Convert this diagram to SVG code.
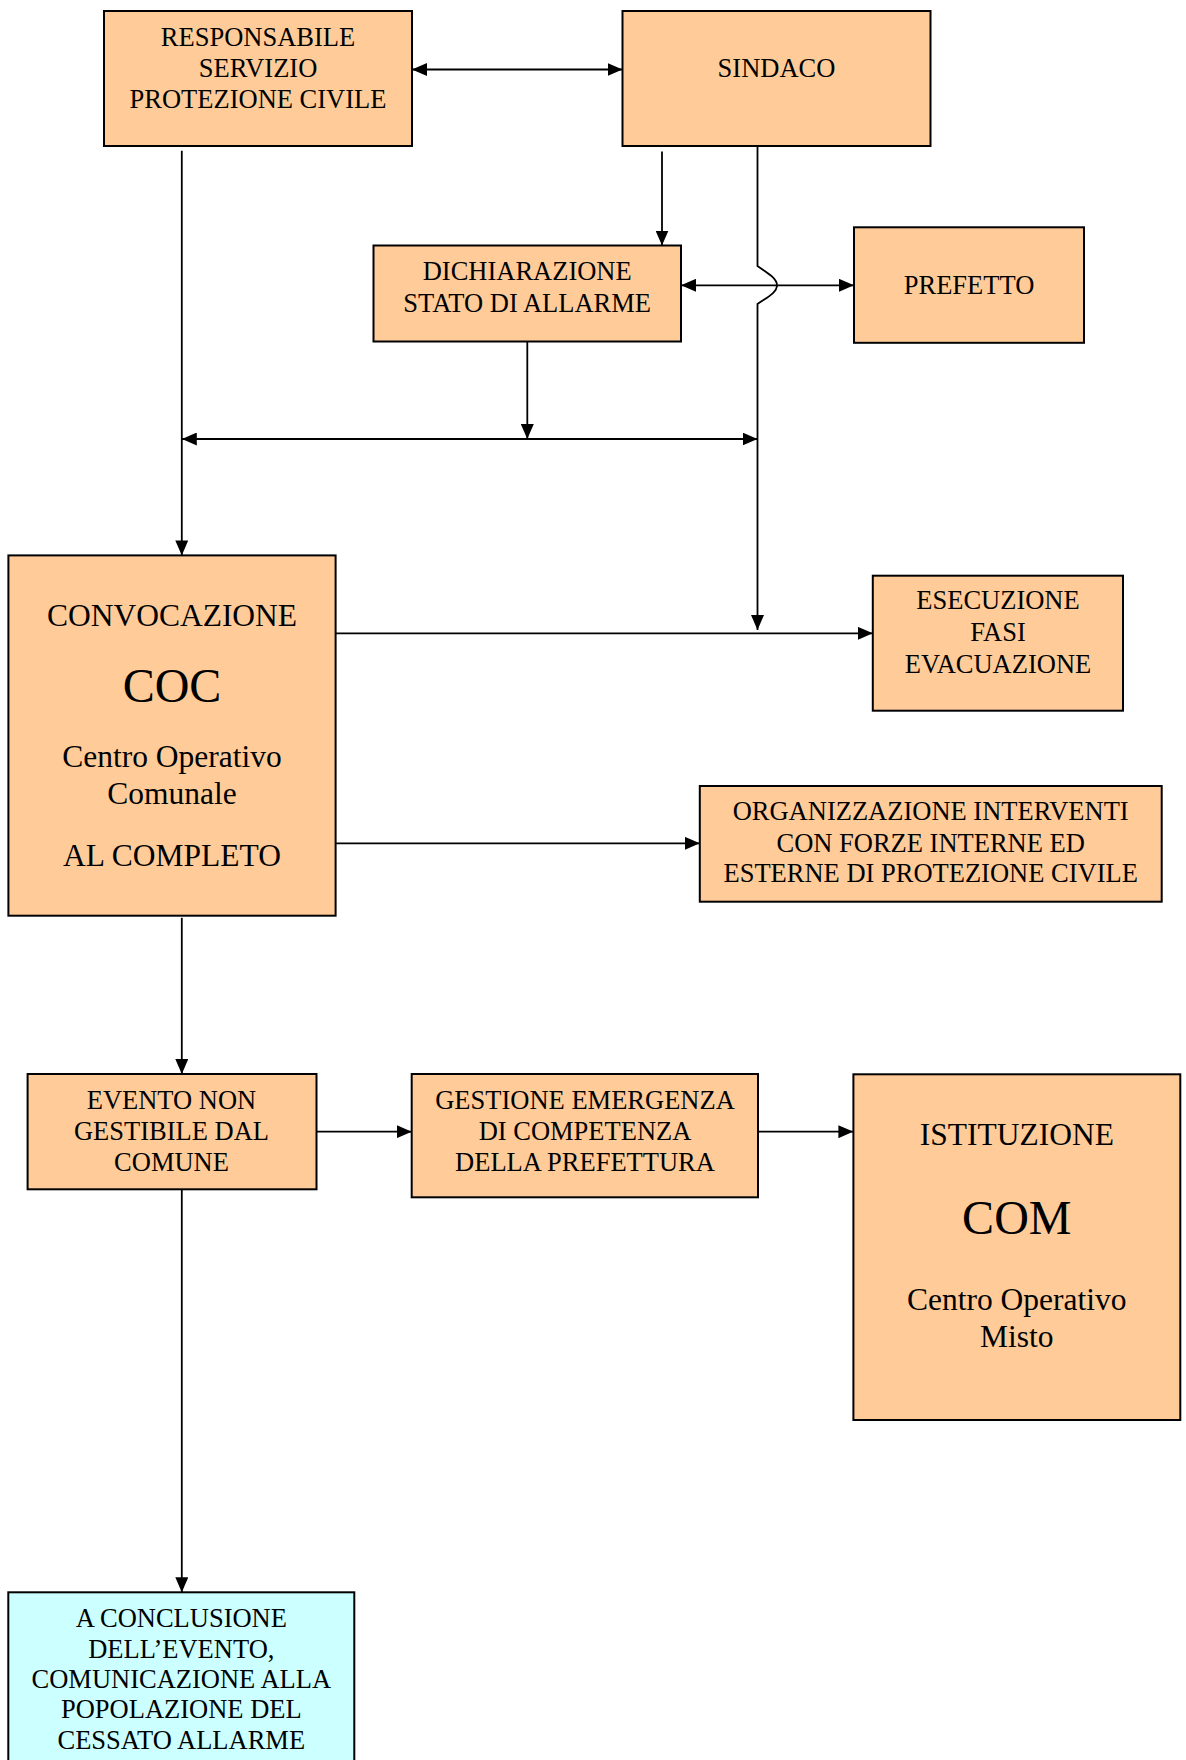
<svg xmlns="http://www.w3.org/2000/svg" width="1186" height="1760" viewBox="0 0 1186 1760">
<style>
  .box { fill: #FFCC99; stroke: #000; stroke-width: 2; }
  .box2 { fill: #CCFFFF; stroke: #000; stroke-width: 2; }
  .t { font-family: "Liberation Serif", "Times New Roman", serif; font-size: 26.5px; fill: #000; text-anchor: middle; }
  .m { font-size: 31.5px; }
  .b { font-size: 48px; }
  .c { fill: none; stroke: #000; stroke-width: 1.8; }
</style>
<defs>
  <marker id="ah" markerUnits="userSpaceOnUse" markerWidth="15" markerHeight="13" refX="15" refY="6.5" orient="auto-start-reverse">
    <path d="M0,0 L15,6.5 L0,13 z" fill="#000"/>
  </marker>
</defs>
<rect width="1186" height="1760" fill="#fff"/>

<g id="connectors">
  <line class="c" x1="412" y1="69.5" x2="622.5" y2="69.5" marker-start="url(#ah)" marker-end="url(#ah)"/>
  <line class="c" x1="662" y1="151.5" x2="662" y2="245.5" marker-end="url(#ah)"/>
  <line class="c" x1="681" y1="285.3" x2="854" y2="285.3" marker-start="url(#ah)" marker-end="url(#ah)"/>
  <path class="c" d="M757.5,146 V266 C766,272 777,278 777,285.3 C777,293 766,298 757.5,304 V630" marker-end="url(#ah)"/>
  <line class="c" x1="181.8" y1="150.7" x2="181.8" y2="555.4" marker-end="url(#ah)"/>
  <line class="c" x1="181.8" y1="439" x2="757.5" y2="439" marker-start="url(#ah)" marker-end="url(#ah)"/>
  <line class="c" x1="527.3" y1="341.7" x2="527.3" y2="439" marker-end="url(#ah)"/>
  <line class="c" x1="335.6" y1="633.3" x2="872.8" y2="633.3" marker-end="url(#ah)"/>
  <line class="c" x1="335.6" y1="843.3" x2="699.8" y2="843.3" marker-end="url(#ah)"/>
  <line class="c" x1="181.8" y1="917.8" x2="181.8" y2="1074" marker-end="url(#ah)"/>
  <line class="c" x1="316.5" y1="1131.7" x2="411.7" y2="1131.7" marker-end="url(#ah)"/>
  <line class="c" x1="758" y1="1131.7" x2="853.4" y2="1131.7" marker-end="url(#ah)"/>
  <line class="c" x1="181.8" y1="1189.3" x2="181.8" y2="1592.3" marker-end="url(#ah)"/>
</g>

<g id="responsabile">
  <rect class="box" x="104" y="11" width="308" height="135"/>
  <text class="t" x="258" y="46">RESPONSABILE</text>
  <text class="t" x="258" y="76.5">SERVIZIO</text>
  <text class="t" x="258" y="107.5">PROTEZIONE CIVILE</text>
</g>

<g id="sindaco">
  <rect class="box" x="622.5" y="11" width="308" height="135"/>
  <text class="t" x="776.5" y="76.7">SINDACO</text>
</g>

<g id="dichiarazione">
  <rect class="box" x="373.5" y="245.5" width="307.5" height="96"/>
  <text class="t" x="527.2" y="280">DICHIARAZIONE</text>
  <text class="t" x="527.2" y="311.7">STATO DI ALLARME</text>
</g>

<g id="prefetto">
  <rect class="box" x="854" y="227.3" width="230" height="115.5"/>
  <text class="t" x="969" y="294">PREFETTO</text>
</g>

<g id="coc">
  <rect class="box" x="8.4" y="555.4" width="327.2" height="360.3"/>
  <text class="t m" x="172" y="626">CONVOCAZIONE</text>
  <text class="t b" x="172" y="702">COC</text>
  <text class="t m" x="172" y="767">Centro Operativo</text>
  <text class="t m" x="172" y="804">Comunale</text>
  <text class="t m" x="172" y="866">AL COMPLETO</text>
</g>

<g id="esecuzione">
  <rect class="box" x="872.8" y="575.7" width="250.2" height="135"/>
  <text class="t" x="998" y="609.3">ESECUZIONE</text>
  <text class="t" x="998" y="640.7">FASI</text>
  <text class="t" x="998" y="672.5">EVACUAZIONE</text>
</g>

<g id="organizzazione">
  <rect class="box" x="699.8" y="786" width="461.9" height="115.7"/>
  <text class="t" x="930.7" y="820">ORGANIZZAZIONE INTERVENTI</text>
  <text class="t" x="930.7" y="851.7">CON FORZE INTERNE ED</text>
  <text class="t" x="930.7" y="882.3">ESTERNE DI PROTEZIONE CIVILE</text>
</g>

<g id="evento">
  <rect class="box" x="27.6" y="1074" width="288.9" height="115.3"/>
  <text class="t" x="171.5" y="1109.3">EVENTO NON</text>
  <text class="t" x="171.5" y="1140">GESTIBILE DAL</text>
  <text class="t" x="171.5" y="1170.5">COMUNE</text>
</g>

<g id="gestione">
  <rect class="box" x="411.7" y="1074" width="346.3" height="123.3"/>
  <text class="t" x="585" y="1109">GESTIONE EMERGENZA</text>
  <text class="t" x="585" y="1140">DI COMPETENZA</text>
  <text class="t" x="585" y="1170.7">DELLA PREFETTURA</text>
</g>

<g id="com">
  <rect class="box" x="853.4" y="1074.3" width="326.9" height="345.7"/>
  <text class="t m" x="1016.8" y="1145">ISTITUZIONE</text>
  <text class="t b" x="1016.8" y="1234">COM</text>
  <text class="t m" x="1016.8" y="1310">Centro Operativo</text>
  <text class="t m" x="1016.8" y="1346.7">Misto</text>
</g>

<g id="conclusione">
  <rect class="box2" x="8.3" y="1592.3" width="346" height="200"/>
  <text class="t" x="181.3" y="1626.7">A CONCLUSIONE</text>
  <text class="t" x="181.3" y="1657.7">DELL’EVENTO,</text>
  <text class="t" x="181.3" y="1688.3">COMUNICAZIONE ALLA</text>
  <text class="t" x="181.3" y="1718.3">POPOLAZIONE DEL</text>
  <text class="t" x="181.3" y="1749">CESSATO ALLARME</text>
</g>
</svg>
